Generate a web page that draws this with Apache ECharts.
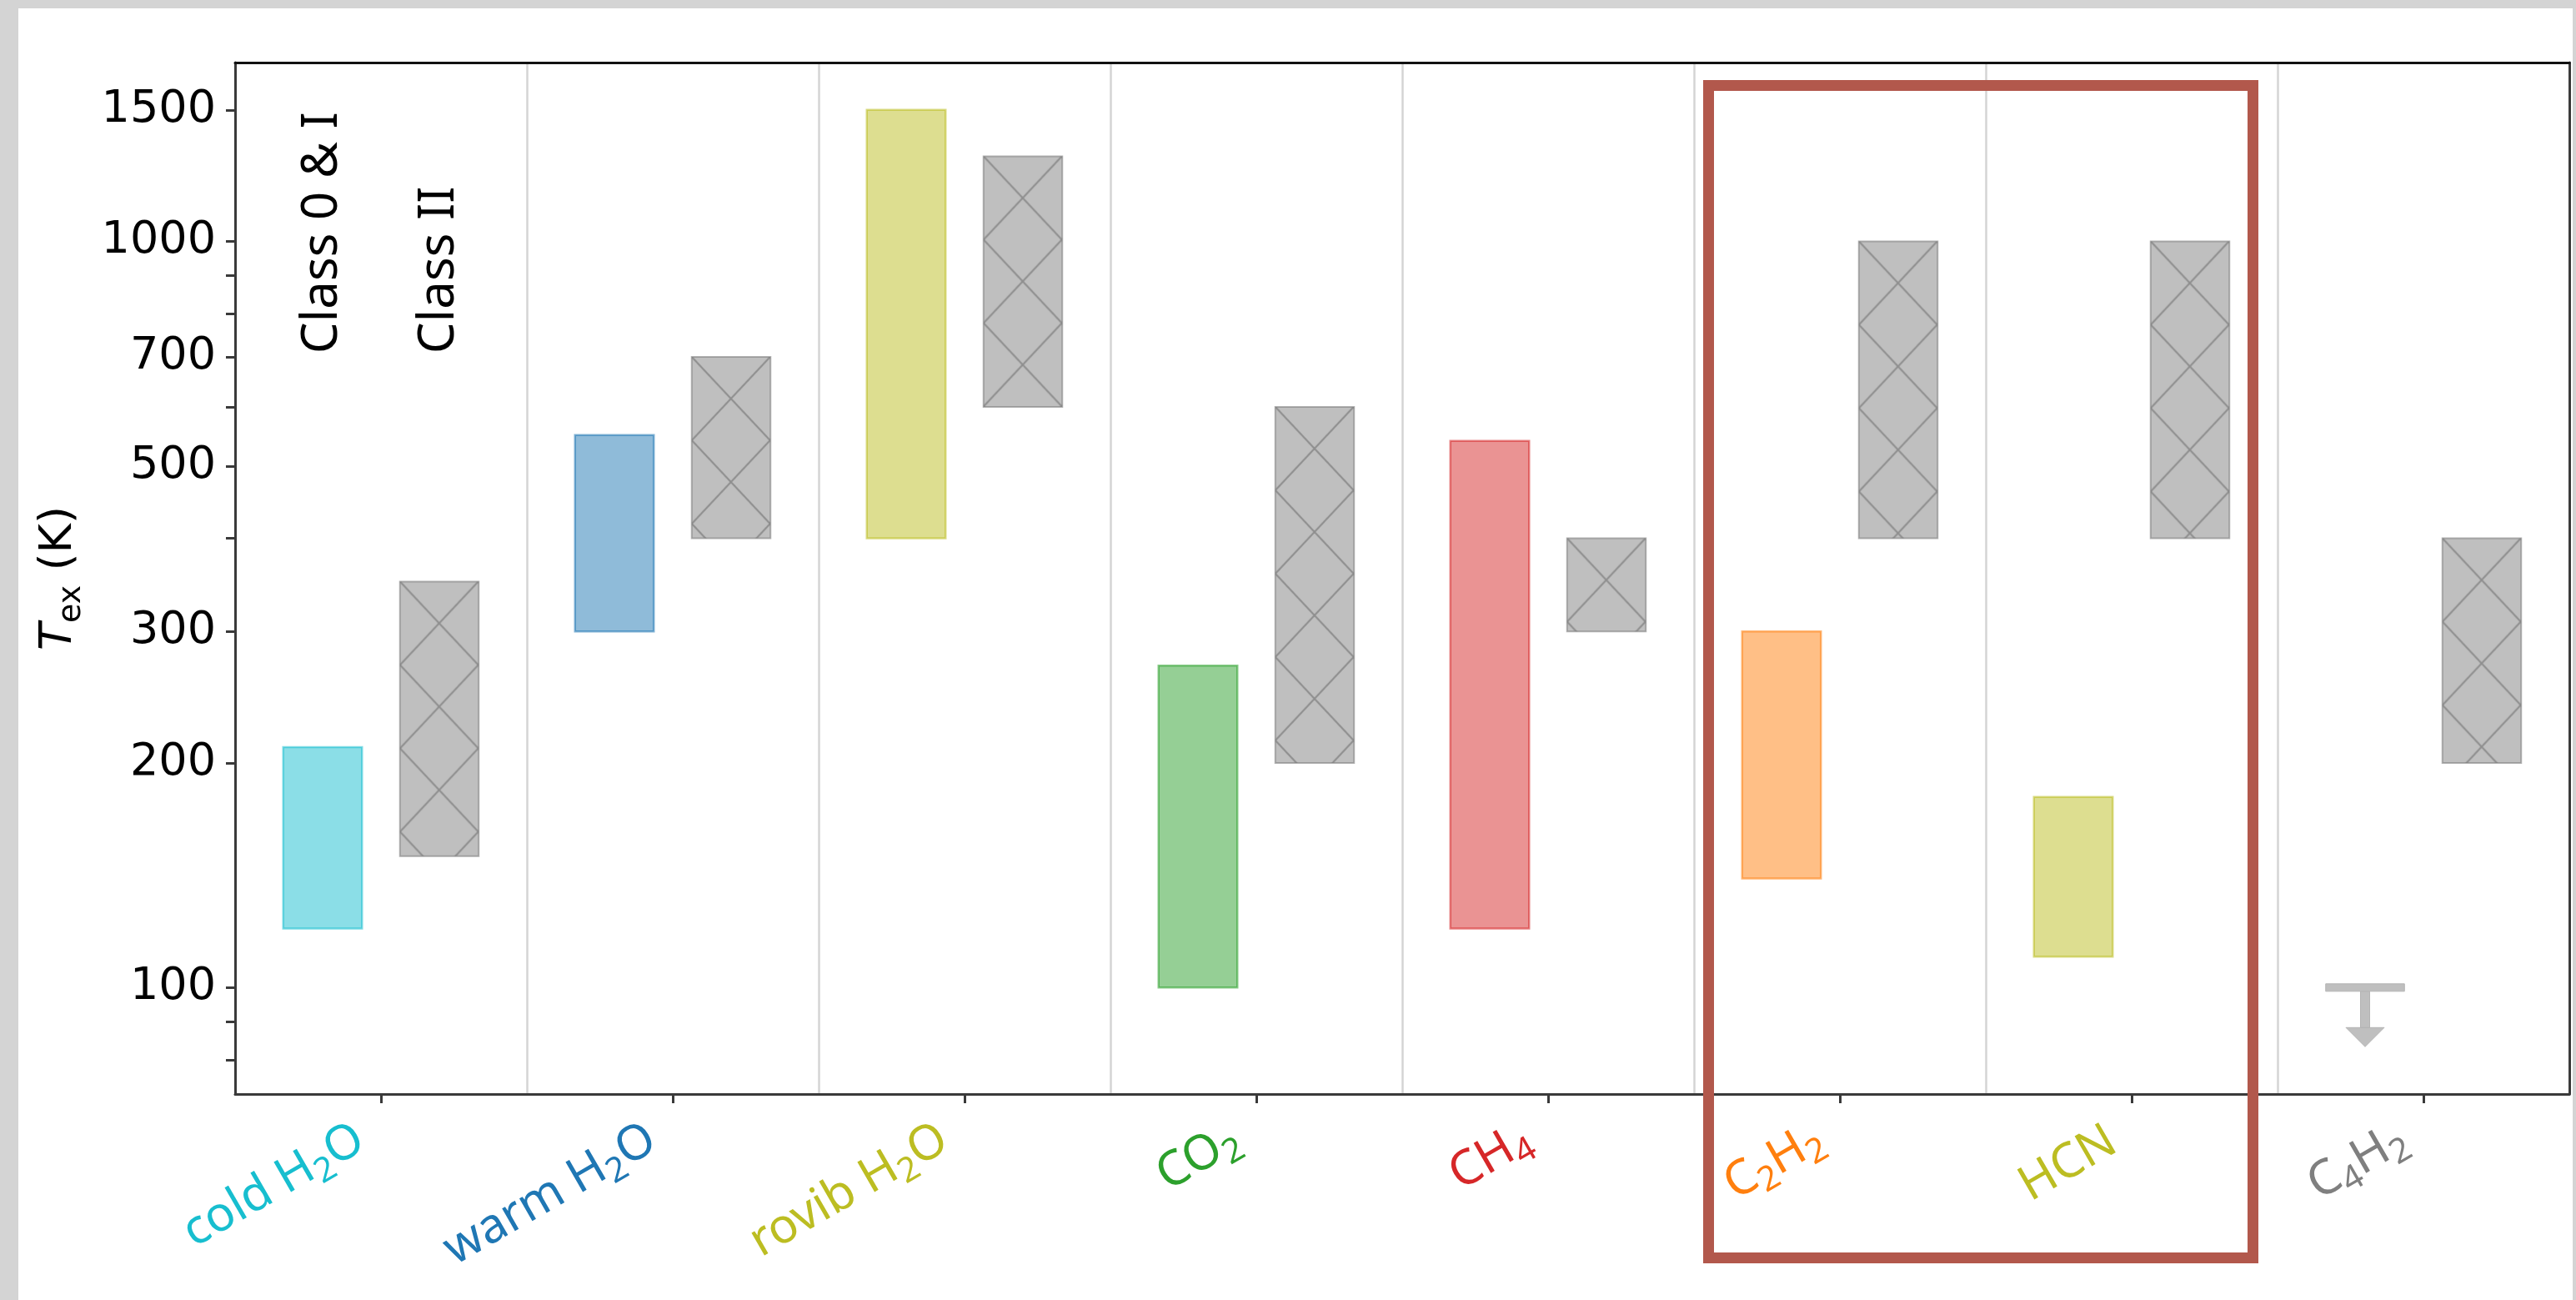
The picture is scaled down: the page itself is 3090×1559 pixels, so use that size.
<!DOCTYPE html>
<html><head><meta charset="utf-8">
<script src="https://cdn.jsdelivr.net/npm/echarts@6/dist/echarts.min.js"></script>
<style>
html,body{margin:0;padding:0;background:#d4d4d4;width:3090px;height:1559px;overflow:hidden}
#panel{position:absolute;left:22px;top:10px;width:3064px;height:1549px;background:#fff}
#chart{position:absolute;left:0;top:0;width:3090px;height:1559px}
</style></head><body><div id="panel"></div><div id="chart"></div>
<script>
// ---------------- data ----------------
const categories = ['cold H₂O', 'warm H₂O', 'rovib H₂O', 'CO₂', 'CH₄', 'C₂H₂', 'HCN', 'C₄H₂'];
const class0Low  = [120, 300, 400, 100, 120, 140, 110, null];
const class0High = [210, 550, 1500, 270, 540, 300, 180, null];
const class2Low  = [150, 400, 600, 200, 300, 400, 400, 200];
const class2High = [350, 700, 1300, 600, 400, 1000, 1000, 400];
const upperLimitCategory = [7];
const upperLimitValue = [100];
const yMajorTicks = [100, 200, 300, 500, 700, 1000, 1500];
const yMinorTicks = [80, 90, 400, 600, 800, 900];
const classLabels = ['Class 0 & I', 'Class II'];
const classLabelBase = 707;

// ---------------- styles ----------------
const categoryColors = ['#17becf', '#1f77b4', '#bcbd22', '#2ca02c', '#d62728', '#ff7f0e', '#bcbd22', '#7f7f7f'];
const BAND_OFFSET = 0.2, BAR_W = 0.27;
const SUBS = { '₀': '0', '₁': '1', '₂': '2', '₃': '3', '₄': '4', '₅': '5', '₆': '6', '₇': '7', '₈': '8', '₉': '9' };

function rgba(hex, a) {
  const n = parseInt(hex.slice(1), 16);
  return 'rgba(' + (n >> 16) + ',' + ((n >> 8) & 255) + ',' + (n & 255) + ',' + a + ')';
}
function toRich(s) {
  let out = '', buf = '';
  for (const ch of s) {
    if (SUBS[ch]) {
      if (buf) { out += '{a|' + buf + '}'; buf = ''; }
      out += '{s|' + SUBS[ch] + '}';
    } else buf += ch;
  }
  if (buf) out += '{a|' + buf + '}';
  return out;
}
function makeHatch() {
  const c = document.createElement('canvas');
  c.width = 94; c.height = 100;
  const g = c.getContext('2d');
  g.strokeStyle = 'rgba(95,95,95,0.5)';
  g.lineWidth = 2.2;
  g.beginPath();
  g.moveTo(0, 0); g.lineTo(94, 100);
  g.moveTo(94, 0); g.lineTo(0, 100);
  g.stroke();
  return c;
}
const hatchCanvas = makeHatch();

const class0Data = categories.map((c, i) => [i, class0Low[i], class0High[i]]).filter(d => d[1] != null);
const class2Data = categories.map((c, i) => [i, class2Low[i], class2High[i]]).filter(d => d[1] != null);
const limitData = upperLimitCategory.map((c, i) => [c, upperLimitValue[i]]);
const classLabelData = classLabels.map((t, i) => [0, classLabelBase, i]);

function barGeom(api, side) {
  const i = api.value(0);
  const pLo = api.coord([i, api.value(1)]);
  const pHi = api.coord([i, api.value(2)]);
  const band = api.size([1, 0])[0];
  const w = band * BAR_W;
  const cx = pLo[0] + side * band * BAND_OFFSET;
  return { x: cx - w / 2, y: pHi[1], width: w, height: pLo[1] - pHi[1] };
}

const chart = echarts.init(document.getElementById('chart'), null, { renderer: 'canvas' });
chart.setOption({
  animation: false,
  backgroundColor: 'transparent',
  grid: { left: 282, top: 75, width: 2800, height: 1237, containLabel: false, outerBoundsMode: 'none' },
  xAxis: [{
    type: 'category', data: categories, position: 'bottom', boundaryGap: true, z: 1,
    axisLine: { show: true, lineStyle: { color: '#3a3a3a', width: 3 } },
    axisTick: { show: true, alignWithLabel: true, interval: 0, length: 11, lineStyle: { color: '#3a3a3a', width: 3 } },
    axisLabel: {
      show: true, interval: 0, rotate: 30, margin: 40, padding: [0, 26, 0, 0],
      fontFamily: 'Noto Sans', fontSize: 58,
      color: (v, i) => categoryColors[i],
      formatter: v => toRich(v),
      rich: {
        a: { fontFamily: 'Noto Sans', fontSize: 58, verticalAlign: 'top' },
        s: { fontFamily: 'Noto Sans', fontSize: 41, verticalAlign: 'top', padding: [24, 0, 0, 0] }
      }
    },
    splitLine: { show: true, interval: 0, lineStyle: { color: '#d4d4d4', width: 2.5 } }
  }, {
    type: 'category', data: categories, position: 'top', z: 3,
    axisLine: { show: true, lineStyle: { color: '#111', width: 3 } },
    axisTick: { show: false }, axisLabel: { show: false }, splitLine: { show: false }
  }],
  yAxis: [{
    type: 'log', logBase: 10, min: 72, max: 1736, position: 'left', z: 3,
    axisLine: { show: true, lineStyle: { color: '#3a3a3a', width: 3 } },
    axisTick: { show: true, inside: false, length: 11, lineStyle: { color: '#3a3a3a', width: 3 },
      customValues: yMajorTicks.concat(yMinorTicks) },
    axisLabel: { show: true, customValues: yMajorTicks, formatter: v => String(Math.round(v)),
      fontFamily: 'DejaVu Sans', fontSize: 54, color: '#000', margin: 23 },
    splitLine: { show: false }, minorTick: { show: false },
    name: '{it|T}{sub|ex}{n| (K)}', nameLocation: 'middle', nameRotate: 90, nameGap: 177,
    nameMoveOverlap: false,
    nameTextStyle: {
      color: '#000', fontFamily: 'DejaVu Sans', fontSize: 54,
      rich: {
        it: { fontFamily: 'DejaVu Sans', fontStyle: 'italic', fontSize: 54, verticalAlign: 'top', color: '#000' },
        sub: { fontFamily: 'DejaVu Sans', fontSize: 38, verticalAlign: 'top', padding: [23, 0, 0, 0], color: '#000' },
        n: { fontFamily: 'DejaVu Sans', fontSize: 54, verticalAlign: 'top', color: '#000' }
      }
    }
  }, {
    type: 'log', logBase: 10, min: 72, max: 1736, position: 'right', z: 3,
    axisLine: { show: true, lineStyle: { color: '#3a3a3a', width: 3 } },
    axisTick: { show: false }, axisLabel: { show: false }, splitLine: { show: false }
  }],
  series: [{
    type: 'custom', name: 'Class 0 & I', xAxisIndex: 0, yAxisIndex: 0, data: class0Data,
    encode: { x: 0, y: [1, 2] },
    renderItem: (params, api) => {
      const col = categoryColors[api.value(0)];
      return { type: 'rect', shape: barGeom(api, -1),
        style: { fill: rgba(col, 0.5), stroke: rgba(col, 0.55), lineWidth: 2.5 } };
    }
  }, {
    type: 'custom', name: 'Class II', xAxisIndex: 0, yAxisIndex: 0, data: class2Data,
    encode: { x: 0, y: [1, 2] },
    renderItem: (params, api) => {
      const g = barGeom(api, 1);
      return { type: 'group', children: [
        { type: 'rect', shape: g, style: { fill: 'rgba(127,127,127,0.5)' } },
        { type: 'rect', shape: g, style: {
          fill: { image: hatchCanvas, repeat: 'repeat', x: g.x, y: g.y },
          stroke: 'rgba(127,127,127,0.6)', lineWidth: 2 } }
      ] };
    }
  }, {
    type: 'custom', name: 'upper limit', xAxisIndex: 0, yAxisIndex: 0, data: limitData,
    encode: { x: 0, y: 1 },
    renderItem: (params, api) => {
      const p = api.coord([api.value(0), api.value(1)]);
      const band = api.size([1, 0])[0];
      const cx = p[0] - band * BAND_OFFSET, w = band * BAR_W, y = p[1];
      const st = { fill: '#bfbfbf', stroke: '#b4b4b4', lineWidth: 1 };
      return { type: 'group', children: [
        { type: 'rect', shape: { x: cx - w / 2, y: y - 4.5, width: w, height: 9 }, style: st },
        { type: 'rect', shape: { x: cx - 5.5, y: y + 4.5, width: 11, height: 44 }, style: st },
        { type: 'polygon', shape: { points: [[cx - 23, y + 48], [cx + 23, y + 48], [cx, y + 71]] }, style: st }
      ] };
    }
  }, {
    type: 'custom', name: 'class labels', xAxisIndex: 0, yAxisIndex: 0, data: classLabelData,
    encode: { x: 0, y: 1 }, z: 5,
    renderItem: (params, api) => {
      const p = api.coord([api.value(0), api.value(1)]);
      const band = api.size([1, 0])[0];
      const side = api.value(2) === 0 ? -1 : 1;
      return { type: 'text', x: p[0] + side * band * BAND_OFFSET, y: p[1], rotation: Math.PI / 2,
        style: { text: classLabels[api.value(2)], align: 'left', verticalAlign: 'middle',
          fontFamily: 'Noto Sans', fontSize: 60, fill: '#000' } };
    }
  }],
  graphic: [{
    type: 'rect', z: 100, silent: true,
    shape: { x: 2049.5, y: 102.5, width: 653, height: 1406 },
    style: { fill: 'none', stroke: '#b2584c', lineWidth: 13 }
  }]
});
</script></body></html>
